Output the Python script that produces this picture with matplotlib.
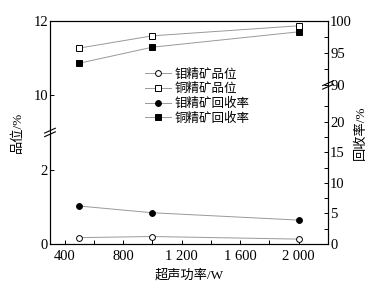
import numpy as np
import matplotlib
matplotlib.use("Agg")
import matplotlib.pyplot as plt
from matplotlib.ticker import FixedLocator, NullFormatter

plt.rcParams["font.family"] = ["Liberation Serif", "Noto Sans CJK SC"]
plt.rcParams["font.size"] = 10

# ── Data ───────────────────────────────────────────────────────────────────────
power = [500, 1000, 2000]
mo_grade = [0.17, 0.20, 0.13]        # left axis, lower part
cu_grade = [11.27, 11.60, 11.87]     # left axis, upper part
mo_recovery = [6.2, 5.1, 3.9]        # right axis, lower part
cu_recovery = [93.4, 95.9, 98.3]     # right axis, upper part

labels = ["钼精矿品位", "铜精矿品位", "钼精矿回收率", "铜精矿回收率"]
x_ticks = [400, 800, 1200, 1600, 2000]
x_ticklabels = ["400", "800", "1 200", "1 600", "2 000"]

# broken-axis layout: (lower max, upper min, upper max, break fraction)
LEFT_BREAK = (3, 9, 12, 0.5)
RIGHT_BREAK = (26, 90, 100, 0.713)


def broken_scale(lo_max, hi_min, hi_max, frac):
    xp = [0, lo_max, hi_min, hi_max]
    fp = [0, frac, frac + 1e-6, 1]

    def fwd(v):
        return np.interp(v, xp, fp)

    def inv(u):
        return np.interp(u, fp, xp)
    return fwd, inv


def break_mark(ax, xpos, ypos):
    d = 0.012
    kw = dict(transform=ax.transAxes, clip_on=False, zorder=10)
    ax.fill([xpos - d * 1.4, xpos + d * 1.4, xpos + d * 1.4, xpos - d * 1.4],
            [ypos - d * 1.3, ypos + d * 0.3, ypos + d * 1.3, ypos - d * 0.3],
            color="white", **kw)
    for off in (-0.008, 0.008):
        ax.plot([xpos - d * 1.6, xpos + d * 1.6],
                [ypos + off - d * 0.9, ypos + off + d * 0.9],
                color="black", lw=0.8, **kw)


fig = plt.figure(figsize=(3.77, 2.87), dpi=100)
ax = fig.add_axes([0.1326, 0.150, 0.7374, 0.777])
ax2 = ax.twinx()

line_kw = dict(color="#999999", lw=0.7, markersize=4.2,
               markeredgecolor="black", markeredgewidth=0.7)

h1, = ax.plot(power, mo_grade, marker="o", markerfacecolor="white", **line_kw)
h2, = ax.plot(power, cu_grade, marker="s", markerfacecolor="white", **line_kw)
h3, = ax2.plot(power, mo_recovery, marker="o", markerfacecolor="black", **line_kw)
h4, = ax2.plot(power, cu_recovery, marker="s", markerfacecolor="black", **line_kw)

ax.set_yscale("function", functions=broken_scale(*LEFT_BREAK))
ax2.set_yscale("function", functions=broken_scale(*RIGHT_BREAK))
ax.set_ylim(0, LEFT_BREAK[2])
ax2.set_ylim(0, RIGHT_BREAK[2])
ax.set_xlim(300, 2200)

ax.set_xticks(x_ticks)
ax.set_xticklabels(x_ticklabels)
ax.xaxis.set_minor_locator(FixedLocator([600, 1000, 1400, 1800]))
ax.set_yticks([0, 2, 10, 12])
ax.set_yticklabels(["0", "2", "10", "12"])
ax.yaxis.set_minor_locator(FixedLocator([]))
ax2.set_yticks([0, 5, 10, 15, 20, 90, 95, 100])
ax2.set_yticklabels(["0", "5", "10", "15", "20", "90", "95", "100"])
ax2.yaxis.set_minor_locator(FixedLocator([2.5, 7.5, 12.5, 17.5, 22.5, 92.5, 97.5]))
ax2.yaxis.set_minor_formatter(NullFormatter())

for a in (ax, ax2):
    a.tick_params(which="both", direction="in", length=3, width=0.7,
                  labelsize=10.5, pad=1.5, top=False)
    for s in a.spines.values():
        s.set_linewidth(0.8)
ax.tick_params(axis="x", pad=4)

ax.set_xlabel("超声功率/W", fontsize=9.5, labelpad=5)
ax.set_ylabel("品位/%", fontsize=9.5, labelpad=7)
ax2.set_ylabel("回收率/%", fontsize=9.5, labelpad=2)

break_mark(ax, 0.0, LEFT_BREAK[3])
break_mark(ax, 1.0, RIGHT_BREAK[3])

ax2.legend([h1, h2, h3, h4], labels, loc="upper left",
           bbox_to_anchor=(0.31, 0.825), frameon=False, fontsize=9,
           handlelength=2.1, handletextpad=0.3, labelspacing=0.2,
           borderpad=0.2)

fig.savefig("out.png", dpi=100)
